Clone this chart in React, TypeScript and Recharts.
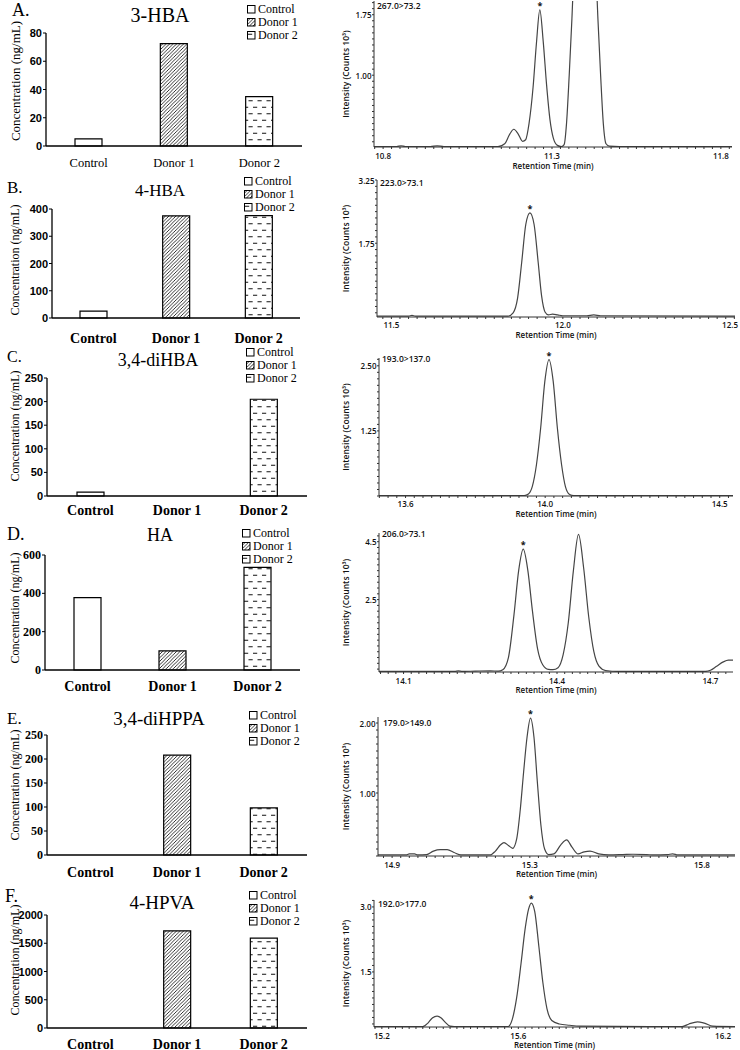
import React from 'react';
import { BarChart, Bar, XAxis, YAxis, Cell, Legend, LineChart, Line, ReferenceDot } from 'recharts';

// ---------------- data ----------------
const categories = ['Control', 'Donor 1', 'Donor 2'];

const hba3Conc = [5, 72.5, 35];
const hba4Conc = [25, 375, 376];
const dihba34Conc = [8, 0, 205];
const haConc = [378, 100, 535];
const dihppa34Conc = [0, 208, 98];
const hpva4Conc = [0, 1720, 1590];

const hba3Ticks = [0, 20, 40, 60, 80];
const hba4Ticks = [0, 100, 200, 300, 400];
const dihba34Ticks = [0, 50, 100, 150, 200, 250];
const haTicks = [0, 200, 400, 600];
const dihppa34Ticks = [0, 50, 100, 150, 200, 250];
const hpva4Ticks = [0, 500, 1000, 1500, 2000];

const panelLetters = ['A.', 'B.', 'C.', 'D.', 'E.', 'F.'];
const compoundNames = ['3-HBA', '4-HBA', '3,4-diHBA', 'HA', '3,4-diHPPA', '4-HPVA'];
const transitions = ['267.0>73.2', '223.0>73.1', '193.0>137.0', '206.0>73.1', '179.0>149.0', '192.0>177.0'];

// chromatograms: [retention time (min), intensity (counts 10^3)]
const chromA = [
  [10.773, 0.115], [10.84, 0.115], [10.853, 0.125], [10.866, 0.115], [10.94, 0.115], [10.96, 0.125], [10.98, 0.115],
  [11.14, 0.115], [11.16, 0.15], [11.175, 0.27], [11.187, 0.33], [11.2, 0.27], [11.213, 0.18], [11.222, 0.2],
  [11.232, 0.4], [11.244, 0.85], [11.254, 1.4], [11.264, 1.81], [11.274, 1.42], [11.284, 0.88], [11.294, 0.45],
  [11.304, 0.22], [11.316, 0.13], [11.328, 0.115], [11.336, 0.14], [11.343, 0.4], [11.351, 1.0], [11.359, 1.7],
  [11.367, 2.5], [11.3975, 3.6], [11.428, 2.5], [11.436, 1.7], [11.444, 1.0], [11.452, 0.4], [11.46, 0.15],
  [11.47, 0.12], [11.5, 0.115], [11.833, 0.115],
];
const chromB = [
  [11.458, 0.02], [11.55, 0.02], [11.56, 0.04], [11.57, 0.02], [11.84, 0.02], [11.855, 0.1], [11.868, 0.45],
  [11.88, 1.3], [11.892, 2.2], [11.904, 2.47], [11.916, 2.2], [11.928, 1.3], [11.938, 0.5], [11.948, 0.12],
  [11.958, 0.05], [11.97, 0.07], [11.985, 0.05], [12.0, 0.03], [12.07, 0.03], [12.09, 0.05], [12.11, 0.03],
  [12.502, 0.02],
];
const chromC = [
  [13.524, 0.01], [13.94, 0.01], [13.952, 0.04], [13.963, 0.18], [13.975, 0.6], [13.987, 1.3], [13.999, 2.2],
  [14.011, 2.62], [14.023, 2.2], [14.035, 1.3], [14.047, 0.6], [14.058, 0.18], [14.07, 0.03], [14.082, 0.01],
  [14.538, 0.01],
];
const chromD = [
  [14.052, 0.02], [14.2, 0.02], [14.207, 0.04], [14.215, 0.02], [14.24, 0.03], [14.27, 0.04], [14.285, 0.03],
  [14.294, 0.08], [14.305, 0.5], [14.316, 2.0], [14.325, 3.5], [14.334, 4.24], [14.343, 3.5], [14.352, 2.1],
  [14.362, 0.8], [14.372, 0.25], [14.383, 0.09], [14.392, 0.08], [14.402, 0.15], [14.412, 0.6], [14.422, 1.7],
  [14.432, 3.5], [14.442, 4.75], [14.452, 3.6], [14.462, 1.9], [14.472, 0.7], [14.482, 0.2], [14.495, 0.05],
  [14.52, 0.02], [14.69, 0.02], [14.7, 0.06], [14.712, 0.2], [14.725, 0.35], [14.735, 0.41], [14.744, 0.41],
];
const chromE = [
  [14.859, 0.115], [14.94, 0.115], [14.95, 0.13], [14.965, 0.13], [14.975, 0.115], [15.0, 0.12], [15.02, 0.17],
  [15.04, 0.19], [15.06, 0.19], [15.08, 0.15], [15.1, 0.115], [15.185, 0.115], [15.2, 0.17], [15.215, 0.26],
  [15.225, 0.29], [15.238, 0.25], [15.25, 0.21], [15.262, 0.35], [15.272, 0.75], [15.282, 1.3], [15.292, 1.8],
  [15.302, 2.07], [15.312, 1.8], [15.322, 1.15], [15.332, 0.55], [15.343, 0.2], [15.355, 0.12], [15.37, 0.13],
  [15.39, 0.26], [15.407, 0.33], [15.422, 0.23], [15.44, 0.13], [15.458, 0.16], [15.475, 0.17], [15.5, 0.13],
  [15.53, 0.115], [15.57, 0.12], [15.6, 0.125], [15.64, 0.12], [15.66, 0.115], [15.7, 0.12], [15.715, 0.13],
  [15.73, 0.115], [15.896, 0.115],
];
const chromF = [
  [15.177, 0.24], [15.32, 0.24], [15.335, 0.32], [15.348, 0.44], [15.362, 0.48], [15.374, 0.44], [15.387, 0.33],
  [15.4, 0.25], [15.412, 0.24], [15.57, 0.24], [15.582, 0.4], [15.595, 0.9], [15.608, 1.7], [15.62, 2.5],
  [15.63, 2.95], [15.638, 3.09], [15.648, 2.9], [15.66, 2.1], [15.672, 1.25], [15.684, 0.65], [15.698, 0.38],
  [15.72, 0.3], [15.75, 0.27], [15.78, 0.25], [16.08, 0.24], [16.1, 0.3], [16.125, 0.35], [16.145, 0.32],
  [16.17, 0.25], [16.235, 0.24],
];

const chromXMajorA = [10.8, 11.3, 11.8];
const chromXMajorB = [11.5, 12.0, 12.5];
const chromXMajorC = [13.6, 14.0, 14.5];
const chromXMajorD = [14.1, 14.4, 14.7];
const chromXMajorE = [14.9, 15.3, 15.8];
const chromXMajorF = [15.2, 15.6, 16.2];
const chromXLabelsA = ['10.8', '11.3', '11.8'];
const chromXLabelsB = ['11.5', '12.0', '12.5'];
const chromXLabelsC = ['13.6', '14.0', '14.5'];
const chromXLabelsD = ['14.1', '14.4', '14.7'];
const chromXLabelsE = ['14.9', '15.3', '15.8'];
const chromXLabelsF = ['15.2', '15.6', '16.2'];

const chromYMajorA = [1.0, 1.75];
const chromYMajorB = [1.75, 3.25];
const chromYMajorC = [1.25, 2.5];
const chromYMajorD = [2.5, 4.5];
const chromYMajorE = [1.0, 2.0];
const chromYMajorF = [1.5, 3.0];
const chromYLabelsA = ['1.00', '1.75'];
const chromYLabelsB = ['1.75', '3.25'];
const chromYLabelsC = ['1.25', '2.50'];
const chromYLabelsD = ['2.5', '4.5'];
const chromYLabelsE = ['1.00', '2.00'];
const chromYLabelsF = ['1.5', '3.0'];

const peakStars = [[11.264, 1.81], [11.904, 2.47], [14.011, 2.62], [14.334, 4.24], [15.302, 2.07], [15.638, 3.09]];

// --------------- assembled tables ---------------
const barSeries = [hba3Conc, hba4Conc, dihba34Conc, haConc, dihppa34Conc, hpva4Conc];
const barTicks = [hba3Ticks, hba4Ticks, dihba34Ticks, haTicks, dihppa34Ticks, hpva4Ticks];
const chromSeries = [chromA, chromB, chromC, chromD, chromE, chromF];
const chromXMajor = [chromXMajorA, chromXMajorB, chromXMajorC, chromXMajorD, chromXMajorE, chromXMajorF];
const chromXLabels = [chromXLabelsA, chromXLabelsB, chromXLabelsC, chromXLabelsD, chromXLabelsE, chromXLabelsF];
const chromYMajor = [chromYMajorA, chromYMajorB, chromYMajorC, chromYMajorD, chromYMajorE, chromYMajorF];
const chromYLabels = [chromYLabelsA, chromYLabelsB, chromYLabelsC, chromYLabelsD, chromYLabelsE, chromYLabelsF];

// --------------- layout / style ---------------
const SERIF = "'Liberation Serif', 'Times New Roman', serif";
const SANS = "'Liberation Sans', Arial, sans-serif";
const CHROM_FONT = "'Open Sans', 'DejaVu Sans', sans-serif";
const barFills = ['#ffffff', 'url(#hatchPat)', 'url(#dashPat)'];
const LEG_ROW = 13.3;

const barLayout = [
  { top: 0, height: 175, plotTop: 33, plotBottom: 146, plotLeft: 46, plotRight: 302, xDy: 17, xBold: false, xFont: 12.5, ySerif: false, yFont: 11, yTitleY: 81, yTitleSize: 13, legTop: 2.5, legLeft: 247, tX: 160, tY: 15, tSize: 20, lX: 12, lY: 10, lSize: 18 },
  { top: 175, height: 175, plotTop: 209, plotBottom: 318, plotLeft: 52, plotRight: 300, xDy: 20, xBold: true, xFont: 14, ySerif: false, yFont: 11, yTitleY: 260, yTitleSize: 12, legTop: 174.5, legLeft: 244, tX: 160, tY: 190, tSize: 17, lX: 7, lY: 187, lSize: 17 },
  { top: 345, height: 175, plotTop: 378, plotBottom: 496, plotLeft: 47, plotRight: 307, xDy: 14.5, xBold: true, xFont: 14, ySerif: false, yFont: 11, yTitleY: 426, yTitleSize: 12, legTop: 345.5, legLeft: 246, tX: 158, tY: 360, tSize: 18, lX: 7, lY: 356, lSize: 16 },
  { top: 520, height: 175, plotTop: 555, plotBottom: 670, plotLeft: 45, plotRight: 300, xDy: 16, xBold: true, xFont: 14, ySerif: true, yFont: 12, yTitleY: 608, yTitleSize: 12, legTop: 526.5, legLeft: 242, tX: 160, tY: 535, tSize: 18, lX: 7, lY: 534, lSize: 18 },
  { top: 695, height: 190, plotTop: 735, plotBottom: 855, plotLeft: 47, plotRight: 307, xDy: 17, xBold: true, xFont: 14, ySerif: true, yFont: 12, yTitleY: 785, yTitleSize: 12, legTop: 708.5, legLeft: 249, tX: 159, tY: 718, tSize: 19, lX: 7, lY: 718, lSize: 17 },
  { top: 880, height: 170, plotTop: 915, plotBottom: 1028, plotLeft: 47, plotRight: 307, xDy: 16, xBold: true, xFont: 14, ySerif: false, yFont: 11, yTitleY: 960, yTitleSize: 12, legTop: 888.5, legLeft: 249, tX: 162, tY: 902, tSize: 19, lX: 5, lY: 896, lSize: 18 },
];

const CHROM_LEFT = 338;
const CHROM_W = 402;
const chromLayout = [
  { top: 0, height: 172, plotTop: 1, plotBottom: 147, plotLeft: 374, plotRight: 732, xDomain: [10.773, 11.833], yDomain: [0.11, 1.92], xStep: 0.025, yStep: 0.075, xTickDy: 6.5, xTitleDy: 18, trX: 377, trY: 5 },
  { top: 175, height: 170, plotTop: 180, plotBottom: 317, plotLeft: 377, plotRight: 735, xDomain: [11.458, 12.502], yDomain: [0, 3.25], xStep: 0.025, yStep: 0.15, xTickDy: 5.5, xTitleDy: 17, trX: 380, trY: 182 },
  { top: 350, height: 170, plotTop: 358, plotBottom: 496, plotLeft: 379, plotRight: 733, xDomain: [13.524, 14.538], yDomain: [0, 2.65], xStep: 0.025, yStep: 0.125, xTickDy: 5.5, xTitleDy: 17, trX: 382, trY: 358 },
  { top: 525, height: 170, plotTop: 533, plotBottom: 672, plotLeft: 379, plotRight: 733, xDomain: [14.052, 14.744], yDomain: [0, 4.8], xStep: 0.015, yStep: 0.2, xTickDy: 6, xTitleDy: 17.5, trX: 382, trY: 533 },
  { top: 700, height: 180, plotTop: 717, plotBottom: 856, plotLeft: 378, plotRight: 735, xDomain: [14.859, 15.896], yDomain: [0.1, 2.086], xStep: 0.025, yStep: 0.1, xTickDy: 6, xTitleDy: 17.5, trX: 383, trY: 722 },
  { top: 885, height: 165, plotTop: 900, plotBottom: 1027, plotLeft: 374, plotRight: 735, xDomain: [15.177, 16.235], yDomain: [0.23, 3.16], xStep: 0.02, yStep: 0.15, xTickDy: 6, xTitleDy: 17.5, trX: 378, trY: 903 },
];

function stepTicks(anchor: number, step: number, lo: number, hi: number) {
  const out: number[] = [];
  const k0 = Math.ceil((lo - anchor) / step - 1e-9);
  const k1 = Math.floor((hi - anchor) / step + 1e-9);
  for (let k = k0; k <= k1; k++) out.push(Math.round((anchor + k * step) * 1e6) / 1e6);
  return out;
}

const findMajor = (majors: number[], v: number) => majors.findIndex((m) => Math.abs(m - v) < 1e-6);

function LegendBox() {
  return (
    <div style={{ fontFamily: SERIF, fontSize: 12, color: '#000', lineHeight: `${LEG_ROW}px` }}>
      {categories.map((c, i) => (
        <div key={c} style={{ display: 'flex', alignItems: 'center', height: LEG_ROW, whiteSpace: 'nowrap' }}>
          <svg width={9} height={9} style={{ marginRight: 2 }}>
            <rect x={0.5} y={0.5} width={7.5} height={7.5} fill={barFills[i]} stroke="#000" strokeWidth={1} />
          </svg>
          <span>{c}</span>
        </div>
      ))}
    </div>
  );
}

function BarPanel({ idx }: { idx: number }) {
  const L = barLayout[idx];
  const values = barSeries[idx];
  const ticks = barTicks[idx];
  const data = categories.map((c, i) => ({ name: c, value: values[i] }));
  const W = 340;
  const yFam = L.ySerif ? SERIF : SANS;
  const xTick = (p: any) => (
    <text x={p.x} y={p.y + L.xDy} textAnchor="middle" dominantBaseline="central" fontFamily={SERIF}
      fontSize={L.xFont} fontWeight={L.xBold ? 700 : 400} fill="#000">{p.payload.value}</text>
  );
  const yTick = (p: any) => (
    <text x={p.x} y={p.y} textAnchor="end" dominantBaseline="central" fontFamily={yFam}
      fontSize={L.yFont} fontWeight={700} fill="#000">{p.payload.value}</text>
  );
  const yTitle = () => {
    const cx = 15;
    const cy = L.yTitleY - L.top;
    return (
      <text x={cx} y={cy} transform={`rotate(-90 ${cx} ${cy})`} textAnchor="middle" dominantBaseline="central"
        fontFamily={SERIF} fontSize={L.yTitleSize} fill="#000">Concentration (ng/mL)</text>
    );
  };
  return (
    <div style={{ position: 'absolute', left: 0, top: L.top }}>
      <BarChart width={W} height={L.height} data={data}
        margin={{ top: L.plotTop - L.top, right: W - L.plotRight, left: 0, bottom: 0 }}>
        <XAxis dataKey="name" height={L.height - (L.plotBottom - L.top)} tickLine={false} tickSize={0} tickMargin={0}
          interval={0} tick={xTick} axisLine={{ stroke: '#000', strokeWidth: 1.3 }} />
        <YAxis type="number" domain={[0, ticks[ticks.length - 1]]} ticks={ticks} interval={0} width={L.plotLeft}
          tickSize={3} tickMargin={1} tick={yTick} tickLine={{ stroke: '#000' }} axisLine={{ stroke: '#000', strokeWidth: 1.3 }}
          label={yTitle} />
        <Bar dataKey="value" barSize={27} stroke="#000" strokeWidth={1.2} isAnimationActive={false}>
          {data.map((d, i) => <Cell key={d.name} fill={barFills[i]} />)}
        </Bar>
        <Legend layout="vertical" align="center" verticalAlign="middle" content={() => <LegendBox />}
          wrapperStyle={{ left: L.legLeft, top: L.legTop - L.top, width: 80, height: 42 }} />
      </BarChart>
    </div>
  );
}

function ChromPanel({ idx }: { idx: number }) {
  const L = chromLayout[idx];
  const data = chromSeries[idx].map(([t, v]) => ({ t, v }));
  const xMaj = chromXMajor[idx];
  const xLab = chromXLabels[idx];
  const yMaj = chromYMajor[idx];
  const yLab = chromYLabels[idx];
  const xTicks = stepTicks(xMaj[0], L.xStep, L.xDomain[0], L.xDomain[1]);
  const yTicks = stepTicks(yMaj[0], L.yStep, L.yDomain[0], L.yDomain[1]);
  const star = peakStars[idx];

  const xTick = (p: any) => {
    const k = findMajor(xMaj, p.payload.value);
    if (k < 0) return <g />;
    const nearEdge = p.x > CHROM_W - 12;
    return (
      <text x={nearEdge ? CHROM_W - 2 : p.x} y={p.y + L.xTickDy} textAnchor={nearEdge ? 'end' : 'middle'}
        dominantBaseline="central" fontFamily={CHROM_FONT} fontSize={8} fontWeight={600} fill="#111">{xLab[k]}</text>
    );
  };
  const yTick = (p: any) => {
    const k = findMajor(yMaj, p.payload.value);
    if (k < 0) return <g />;
    return (
      <text x={p.x - 0.5} y={p.y} textAnchor="end" dominantBaseline="central" fontFamily={CHROM_FONT}
        fontSize={8} fontWeight={600} fill="#111">{yLab[k]}</text>
    );
  };
  const xTitle = (p: any) => {
    const vb = p.viewBox || {};
    return (
      <text x={vb.x + vb.width / 2} y={vb.y + L.xTitleDy} textAnchor="middle" dominantBaseline="central"
        fontFamily={CHROM_FONT} fontSize={8} fontWeight={600} fill="#111">Retention Time (min)</text>
    );
  };
  const yTitle = () => {
    const cx = 345 - CHROM_LEFT;
    const cy = (L.plotTop + L.plotBottom) / 2 - L.top;
    return (
      <text x={cx} y={cy} transform={`rotate(-90 ${cx} ${cy})`} textAnchor="middle" dominantBaseline="central"
        fontFamily={CHROM_FONT} fontSize={8.5} fontWeight={600} fill="#111">Intensity (Counts 10³)</text>
    );
  };
  const starShape = (p: any) => (
    <text x={p.cx} y={p.cy - 4.5} textAnchor="middle" dominantBaseline="central" fontFamily={CHROM_FONT}
      fontSize={9} fontWeight={700} fill="#111">*</text>
  );
  return (
    <div style={{ position: 'absolute', left: CHROM_LEFT, top: L.top }}>
      <LineChart width={CHROM_W} height={L.height} data={data}
        margin={{ top: L.plotTop - L.top, right: CHROM_LEFT + CHROM_W - L.plotRight, left: 0, bottom: 0 }}>
        <XAxis dataKey="t" type="number" domain={L.xDomain} allowDataOverflow ticks={xTicks} interval={0}
          tickSize={2} tickMargin={0} height={L.height - (L.plotBottom - L.top)} tick={xTick}
          tickLine={{ stroke: '#333' }} axisLine={{ stroke: '#333' }} label={xTitle} />
        <YAxis type="number" domain={L.yDomain} allowDataOverflow ticks={yTicks} interval={0}
          tickSize={2} tickMargin={0} width={L.plotLeft - CHROM_LEFT} tick={yTick}
          tickLine={{ stroke: '#333' }} axisLine={{ stroke: '#333' }} label={yTitle} />
        <Line type="monotone" dataKey="v" stroke="#454545" strokeWidth={1.2} dot={false} isAnimationActive={false} />
        <ReferenceDot x={star[0]} y={star[1]} r={0} shape={starShape} />
      </LineChart>
    </div>
  );
}

export default function App() {
  return (
    <div style={{ position: 'absolute', left: 0, top: 0, width: 740, height: 1050, background: '#fff', overflow: 'hidden' }}>
      <svg width={0} height={0} style={{ position: 'absolute' }}>
        <defs>
          <pattern id="hatchPat" patternUnits="userSpaceOnUse" width={3.5} height={3.5}>
            <rect width={3.5} height={3.5} fill="#fff" />
            <path d="M-1,1 l2,-2 M0,3.5 l3.5,-3.5 M2.5,4.5 l2,-2" stroke="#000" strokeWidth={0.8} />
          </pattern>
          <pattern id="dashPat" patternUnits="userSpaceOnUse" width={9} height={13}>
            <rect width={9} height={13} fill="#fff" />
            <path d="M1,3.25 h4.2 M5.5,9.75 h3.5 M0,9.75 h0.7" stroke="#111" strokeWidth={1} />
          </pattern>
        </defs>
      </svg>
      {barLayout.map((_, i) => <BarPanel key={`b${i}`} idx={i} />)}
      {chromLayout.map((_, i) => <ChromPanel key={`c${i}`} idx={i} />)}
      <svg width={740} height={1050} style={{ position: 'absolute', left: 0, top: 0, pointerEvents: 'none' }}>
        {barLayout.map((L, i) => (
          <g key={`t${i}`}>
            <text x={L.lX} y={L.lY} dominantBaseline="central" fontFamily={SERIF} fontSize={L.lSize} fill="#000">{panelLetters[i]}</text>
            <text x={L.tX} y={L.tY} textAnchor="middle" dominantBaseline="central" fontFamily={SERIF} fontSize={L.tSize} fill="#000">{compoundNames[i]}</text>
          </g>
        ))}
        {chromLayout.map((L, i) => (
          <text key={`r${i}`} x={L.trX} y={L.trY} dominantBaseline="central" fontFamily={CHROM_FONT} fontSize={8.5}
            fontWeight={600} fill="#111">{transitions[i]}</text>
        ))}
      </svg>
    </div>
  );
}
